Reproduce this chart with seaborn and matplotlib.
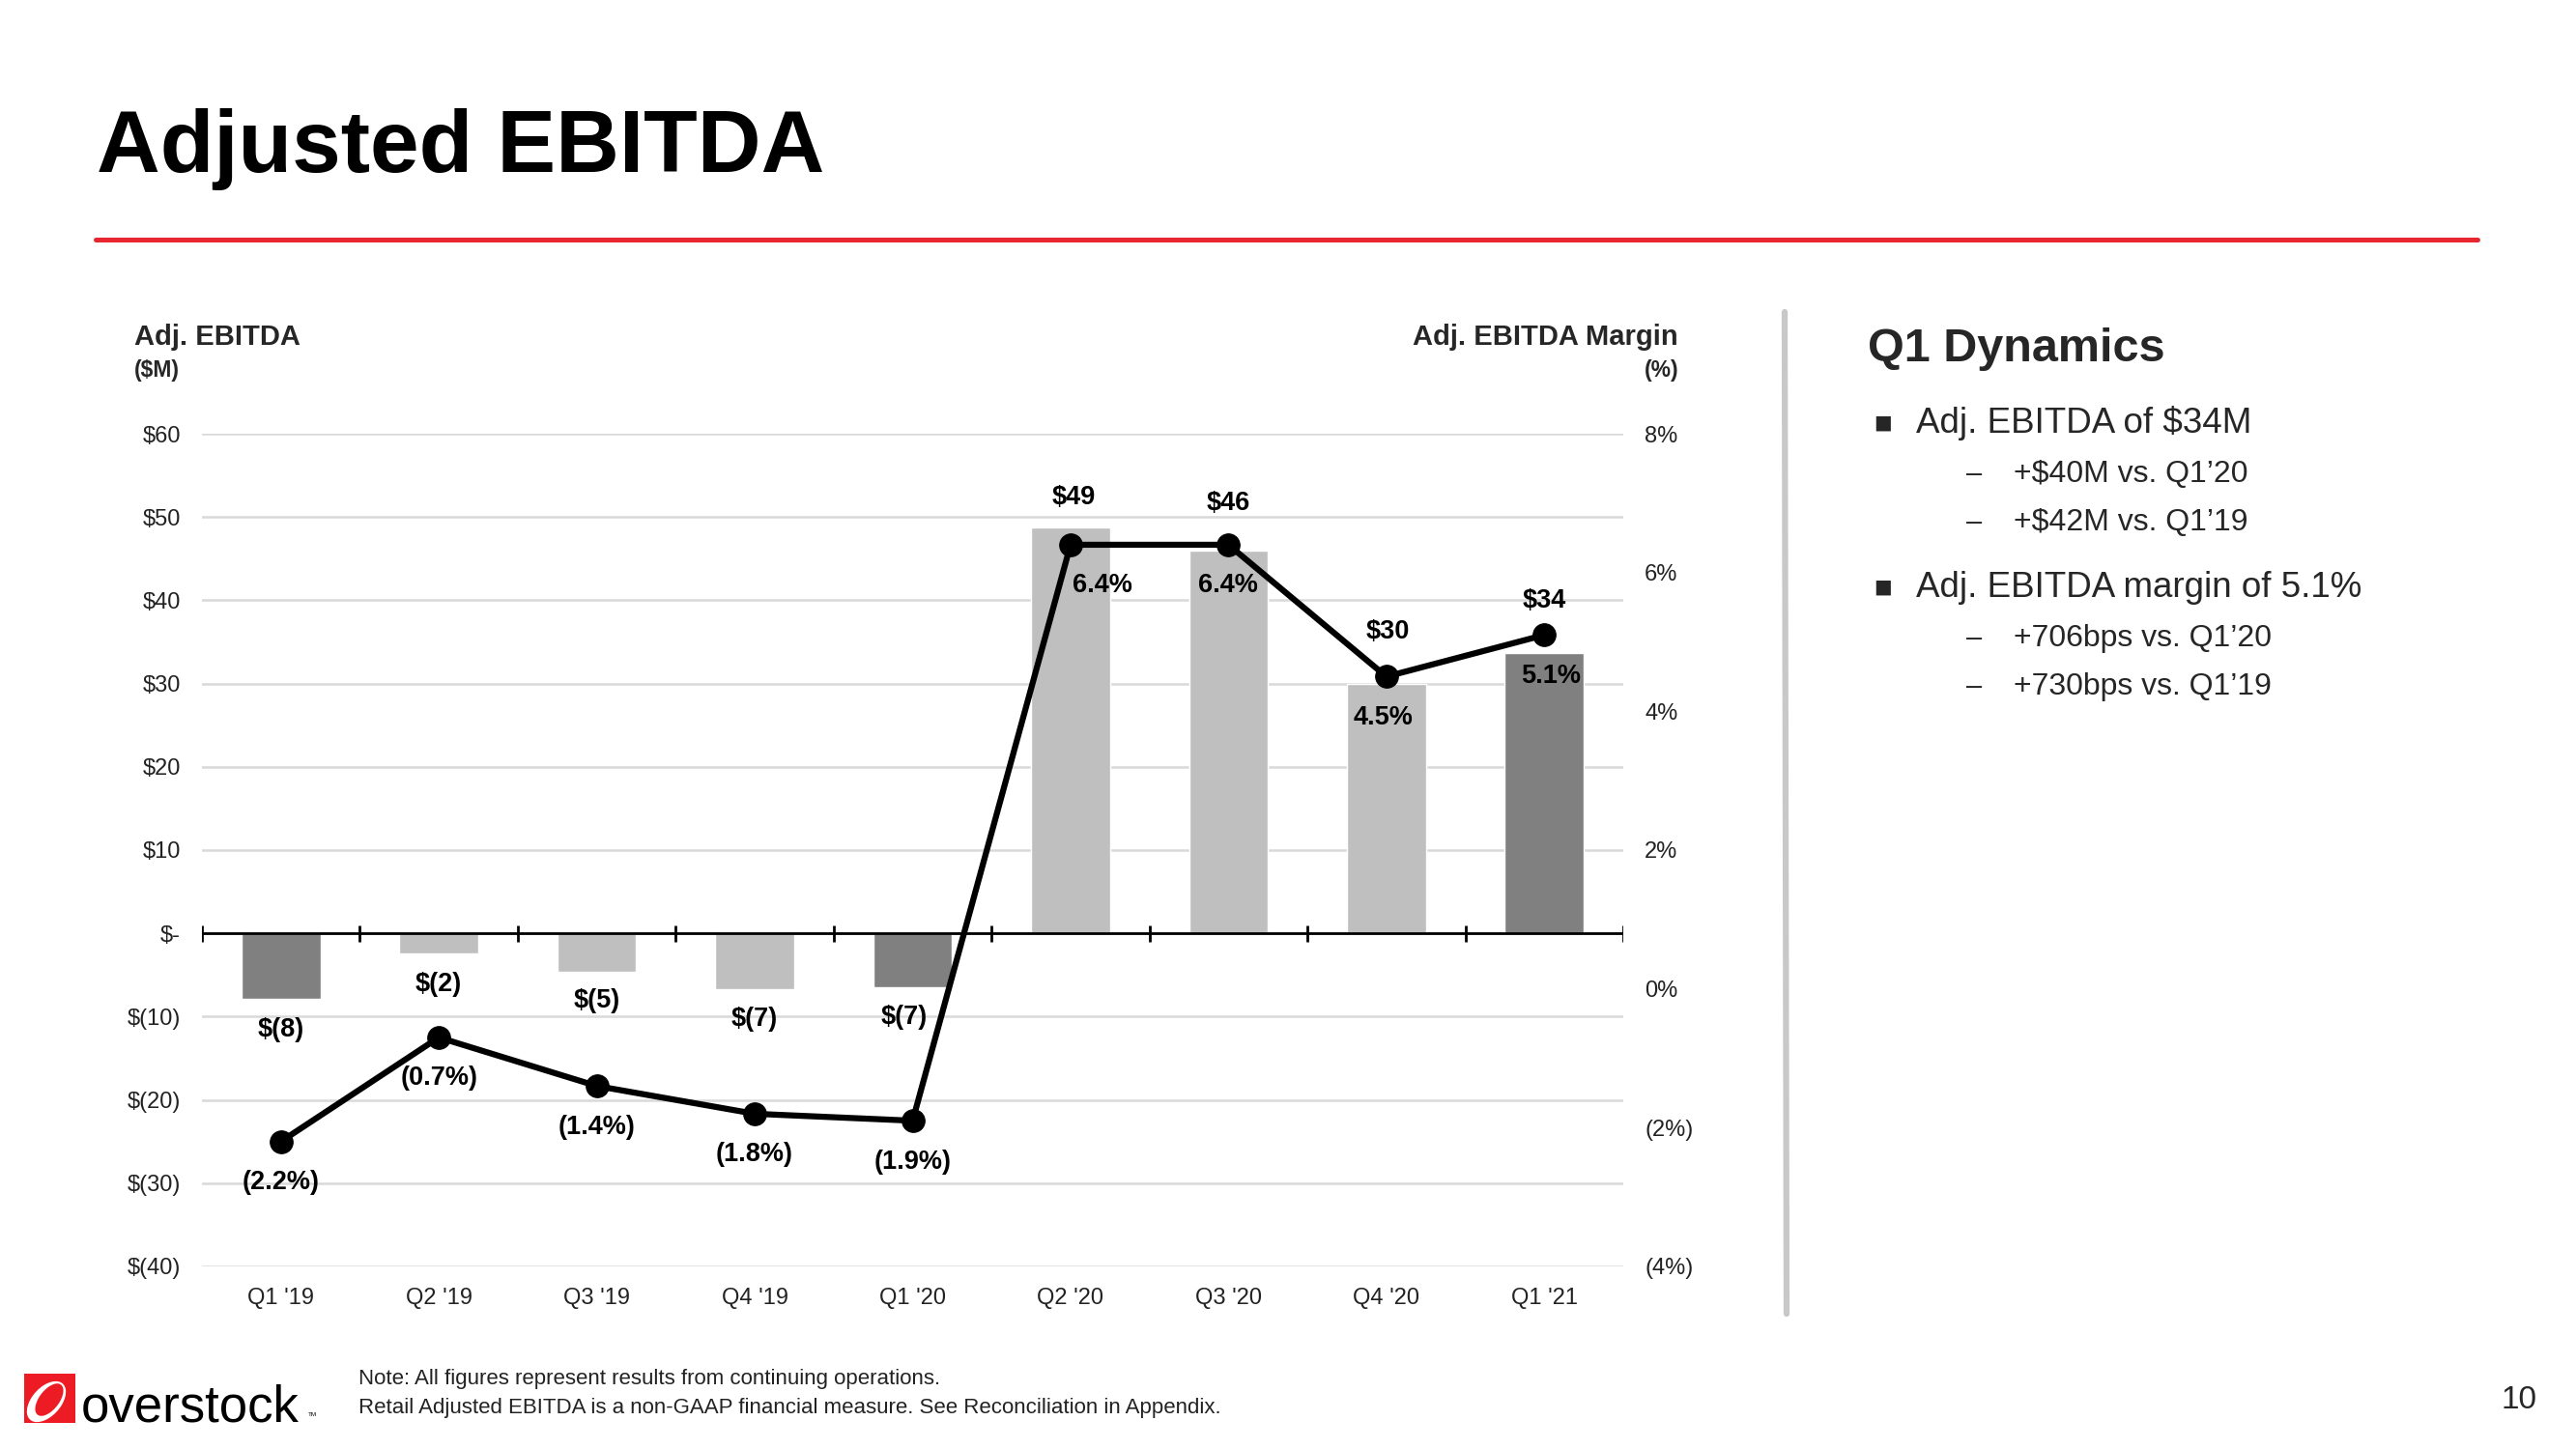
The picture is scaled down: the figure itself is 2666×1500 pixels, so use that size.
import numpy as np
import pandas as pd
import matplotlib
matplotlib.use("Agg")
import matplotlib.pyplot as plt
import seaborn as sns
from matplotlib.lines import Line2D
from matplotlib.patches import Rectangle, Ellipse
from matplotlib.ticker import FuncFormatter

# ---------------- data ----------------
quarters = ["Q1 '19", "Q2 '19", "Q3 '19", "Q4 '19", "Q1 '20", "Q2 '20", "Q3 '20", "Q4 '20", "Q1 '21"]
ebitda = [-7.9, -2.4, -4.6, -6.7, -6.5, 48.8, 46.0, 29.9, 33.7]
ebitda_labels = ["$(8)", "$(2)", "$(5)", "$(7)", "$(7)", "$49", "$46", "$30", "$34"]
margin = [-2.2, -0.7, -1.4, -1.8, -1.9, 6.4, 6.4, 4.5, 5.1]
margin_labels = ["(2.2%)", "(0.7%)", "(1.4%)", "(1.8%)", "(1.9%)", "6.4%", "6.4%", "4.5%", "5.1%"]
left_ticks = [-40, -30, -20, -10, 0, 10, 20, 30, 40, 50, 60]
right_ticks = [-4, -2, 0, 2, 4, 6, 8]
bullets = ["Adj. EBITDA of $34M", "Adj. EBITDA margin of 5.1%"]
sub_bullets = [["+$40M vs. Q1\u201920", "+$42M vs. Q1\u201919"],
               ["+706bps vs. Q1\u201920", "+730bps vs. Q1\u201919"]]

# ---------------- styles / positions ----------------
DARK = "#808080"
LIGHT = "#bfbfbf"
bar_colors = [DARK, LIGHT, LIGHT, LIGHT, DARK, LIGHT, LIGHT, LIGHT, DARK]
bar_label_dy = [-23, -23, -22, -22, -22, 22, 35, 39, 39]
bar_label_dx = [0, 0, 0, 0, -6, 2, 0, 1, 0]
margin_label_dy = [-30.5] * 9
margin_label_dx = [0, 0, 0, 0, 0, 24, 0, -2, 5]

sns.set_theme(style="white")
plt.rcParams["font.family"] = ["Liberation Sans", "DejaVu Sans"]

W, H = 2666, 1500
fig = plt.figure(figsize=(W / 100, H / 100), dpi=100)
fig.patch.set_facecolor("white")

def fx(px):
    return px / W

def fy(py):
    return 1 - py / H

# Title and rule
fig.text(fx(100), fy(178), "Adjusted EBITDA", fontsize=65.5, fontweight="bold",
         va="baseline", ha="left", color="black")
fig.add_artist(Line2D([fx(99), fx(2564)], [fy(248), fy(248)], color="#e8262f", lw=3.6))
# separator
fig.add_artist(Line2D([fx(1847), fx(1849)], [fy(323), fy(1360)], color="#c8c8c8", lw=4.5))

# ---------------- chart ----------------
ax = fig.add_axes([fx(209), fy(1311), (1680 - 209) / W, (1311 - 449) / H])
df = pd.DataFrame({"quarter": quarters, "ebitda": ebitda})
sns.barplot(data=df, x="quarter", y="ebitda", hue="quarter", palette=bar_colors,
            legend=False, width=0.5, saturation=1, ax=ax, zorder=2)
n = len(quarters)
ax.set_xlim(-0.5, n - 0.5)
ax.set_ylim(-40, 60)
ax.set_yticks(left_ticks)

def left_fmt(v, pos):
    v = int(round(v))
    if v == 0:
        return "$-"
    if v < 0:
        return f"$({abs(v)})"
    return f"${v}"

ax.yaxis.set_major_formatter(FuncFormatter(left_fmt))
ax.yaxis.grid(True, color="#d9d9d9", lw=1.8, zorder=0)
ax.xaxis.grid(False)
ax.set_axisbelow(True)
for s in ax.spines.values():
    s.set_visible(False)
ax.set_xlabel("")
ax.set_ylabel("")
ax.set_xticks(range(n))
ax.set_xticklabels(quarters)
ax.tick_params(axis="x", length=0, pad=16, labelsize=17, colors="#222222")
ax.tick_params(axis="y", length=0, pad=16, labelsize=17, colors="#222222")

# zero axis line with boundary ticks
ax.axhline(0, color="black", lw=2, zorder=3)
ax.vlines(np.arange(n + 1) - 0.5, -1, 1, color="black", lw=2, zorder=3)

for i, (v, lab) in enumerate(zip(ebitda, ebitda_labels)):
    ax.annotate(lab, (i, v), xytext=(bar_label_dx[i], bar_label_dy[i]),
                textcoords="offset points", ha="center", va="center",
                fontsize=19.5, fontweight="bold", color="black", zorder=5)

# margin line
ax2 = ax.twinx()
sns.lineplot(x=np.arange(n), y=margin, ax=ax2, color="black", lw=4.5,
             marker="o", markersize=17, markeredgecolor="black", sort=False, zorder=4)
ax2.set_ylim(-4, 8)
ax2.set_yticks(right_ticks)

def right_fmt(v, pos):
    v = int(round(v))
    if v < 0:
        return f"({abs(v)}%)"
    return f"{v}%"

ax2.yaxis.set_major_formatter(FuncFormatter(right_fmt))
ax2.grid(False)
for s in ax2.spines.values():
    s.set_visible(False)
ax2.tick_params(axis="y", length=0, pad=16, labelsize=17, colors="#222222")
ax2.set_ylabel("")
ax2.set_xlim(-0.5, n - 0.5)

for i, (v, lab) in enumerate(zip(margin, margin_labels)):
    ax2.annotate(lab, (i, v), xytext=(margin_label_dx[i], margin_label_dy[i]),
                 textcoords="offset points", ha="center", va="center",
                 fontsize=19.5, fontweight="bold", color="black", zorder=6)

# axis headers
fig.text(fx(139), fy(349), "Adj. EBITDA", fontsize=21, fontweight="bold", ha="left", va="center")
fig.text(fx(139), fy(383), "($M)", fontsize=16.5, fontweight="bold", ha="left", va="center")
fig.text(fx(1737), fy(349), "Adj. EBITDA Margin", fontsize=21, fontweight="bold", ha="right", va="center")
fig.text(fx(1737), fy(383), "(%)", fontsize=16.5, fontweight="bold", ha="right", va="center")

# ---------------- right panel ----------------
fig.text(fx(1933), fy(362), "Q1 Dynamics", fontsize=35, fontweight="bold", ha="left", va="center")
bullet_y = [438, 608]
sub_y = [[491, 541], [661, 711]]
for b, by, subs, sys_ in zip(bullets, bullet_y, sub_bullets, sub_y):
    fig.text(fx(1938), fy(by), "\u25aa", fontsize=22, ha="left", va="center",
             family=["DejaVu Sans"])
    fig.text(fx(1983), fy(by), b, fontsize=26.5, ha="left", va="center")
    for s, sy in zip(subs, sys_):
        fig.text(fx(2035), fy(sy), "\u2013", fontsize=21, ha="left", va="center")
        fig.text(fx(2084), fy(sy), s, fontsize=23, ha="left", va="center")

# ---------------- footer ----------------
fig.text(fx(371), fy(1428), "Note: All figures represent results from continuing operations.",
         fontsize=16, ha="left", va="center", color="#222222")
fig.text(fx(371), fy(1458),
         "Retail Adjusted EBITDA is a non-GAAP financial measure. See Reconciliation in Appendix.",
         fontsize=16, ha="left", va="center", color="#222222")
fig.text(fx(2607), fy(1449), "10", fontsize=24, ha="center", va="center")

# logo
fig.add_artist(Rectangle((fx(25), fy(1473)), fx(78) - fx(25), fy(1422) - fy(1473),
                         transform=fig.transFigure, facecolor="#ed1c24", edgecolor="none"))
fig.add_artist(Ellipse((fx(48), fy(1451)), fx(34), 44 / H, angle=-18,
                       transform=fig.transFigure, facecolor="white", edgecolor="none"))
fig.add_artist(Ellipse((fx(51), fy(1449)), fx(23), 35 / H, angle=-18,
                       transform=fig.transFigure, facecolor="#ed1c24", edgecolor="none"))
fig.text(fx(84), fy(1471), "overstock", fontsize=38, ha="left", va="baseline",
         color="black")
fig.text(fx(319), fy(1466), "TM", fontsize=4.5, ha="left", va="baseline", color="black")

fig.savefig("out.png", dpi=100, facecolor="white")
